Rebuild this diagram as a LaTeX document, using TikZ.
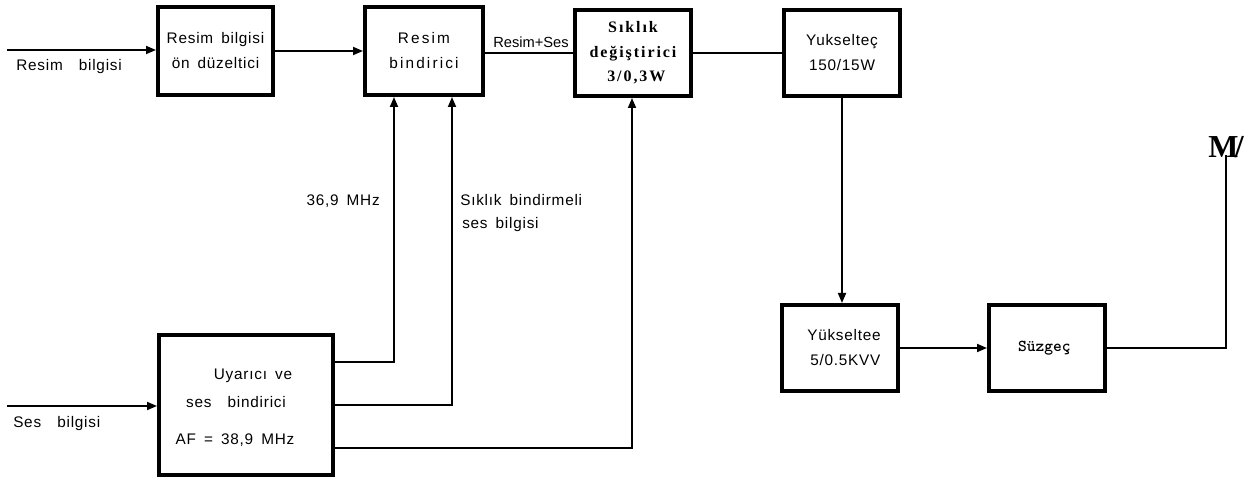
\documentclass[tikz,border=0pt]{standalone}
\usepackage{fontspec}
\setmainfont{Liberation Sans}[LetterSpace=5,WordSpace=1.6]
\newfontfamily\widesf{Liberation Sans}[LetterSpace=14,WordSpace=1.6]
\newfontfamily\plainsf{Liberation Sans}
\newfontfamily\bserif{Liberation Serif}[LetterSpace=12,WordSpace=1.5]
\newfontfamily\antser{Liberation Serif}
\usetikzlibrary{arrows.meta}
\tikzset{
  bx/.style n args={2}{draw, line width=3pt, minimum width=#1*0.75pt-3pt,
    minimum height=#2*0.75pt-3pt, inner sep=0pt, align=center,
    font=\fontsize{11.5}{18.75}\selectfont},
  txt/.style={inner sep=0pt, font=\fontsize{11.5}{13}\selectfont},
  conn/.style={line width=1.3pt},
  arr/.style={conn, -{Triangle[length=7.5pt,width=6pt]}}
}
\begin{document}
\begin{tikzpicture}[x=0.75pt,y=-0.75pt]
\useasboundingbox (0,0) rectangle (1250,484);
% boxes
\node[bx={119}{92}] (A) at (215.5,51) {Resim bilgisi\\ön düzeltici};
\node[bx={122}{92}, font=\widesf\fontsize{11.5}{18.75}\selectfont] (B) at (424,51) {Resim\\bindirici};
\node[bx={120}{90}, font=\bserif\bfseries\fontsize{12}{18.4}\selectfont] (C) at (633,53) {Sıklık\\değiştirici\\\hspace*{5pt}3/0,3W};
\node[bx={120}{90}] (D) at (842,53) {Yukselteç\\150/15W};
\node[bx={120}{90}] (E) at (840,348) {\hspace*{6pt}Yükseltee\\\hspace*{8pt}5/0.5KVV};
\node[bx={120}{90}, font=\ttfamily\bfseries\fontsize{12.5}{14}\selectfont] (F) at (1047,348) {Süzgeç\hspace*{4pt}};
\node[bx={178}{144}] (G) at (246,405) {};
\node[txt, anchor=base] (G1) at (253,380) {Uyarıcı ve};
\node[txt, anchor=base] (G2) at (236,408) {ses \ bindirici};
\node[txt, anchor=base] (G3) at (235,445) {AF = 38,9 MHz};
% antenna symbol
\node[inner sep=0pt, anchor=base, font=\antser\bfseries\fontsize{24}{26}\selectfont] (ant) at (1226,158) {M\kern-0.12em/};
% external inputs
\coordinate (r0) at (7,50);
\coordinate (s0) at (7,406);
\draw[arr] (r0) -- (r0 -| A.west);
\draw[arr] (s0) -- (s0 -| G.west);
\node[txt, anchor=base west] (lr) at (16,71) {Resim \ bilgisi};
\node[txt, anchor=base west] (ls) at (13,428) {Ses \ bilgisi};
% chain
\draw[arr] (A.east) -- (B.west);
\draw[conn] (B.east |- C.west) -- (C.west);
\node[inner sep=0pt, anchor=base, font=\plainsf\fontsize{11}{13}\selectfont] (lrs) at (531,48) {Resim+Ses};
\draw[conn] (C.east) -- (D.west);
\draw[arr] (D.south) -- (D.south |- E.north);
\draw[arr] (E.east) -- (F.west);
\draw[conn] (F.east) -| ([yshift=2pt]ant.base);
% feedback from G
\draw[arr] ([yshift=32.25pt]G.east) -| ([xshift=-22.5pt]B.south);
\draw[arr] (G.east) -| ([xshift=21pt]B.south);
\draw[arr] ([yshift=-32pt]G.east) -| ([xshift=-0.75pt]C.south);
\node[txt, anchor=base east] (l369) at (380,206) {36,9 MHz};
\node[txt, anchor=base west] (lsb1) at (460,206) {Sıklık bindirmeli};
\node[txt, anchor=base west] (lsb2) at (462,229) {ses bilgisi};
\end{tikzpicture}
\end{document}
